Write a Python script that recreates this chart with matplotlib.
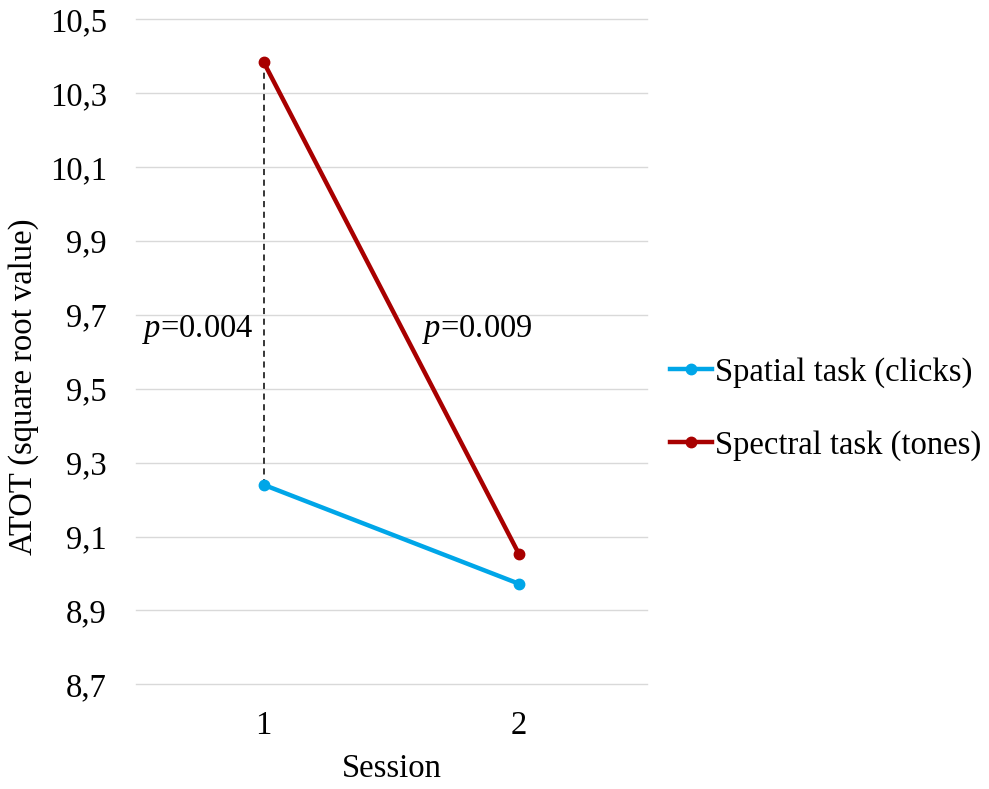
import matplotlib
matplotlib.use("Agg")
import matplotlib.pyplot as plt

sessions = [1, 2]
session_labels = ["1", "2"]
spatial = [9.240, 8.972]
spectral = [10.384, 9.052]
yticks = [8.7, 8.9, 9.1, 9.3, 9.5, 9.7, 9.9, 10.1, 10.3, 10.5]
ytick_labels = ["8,7", "8,9", "9,1", "9,3", "9,5", "9,7", "9,9", "10,1", "10,3", "10,5"]
series_names = ["Spatial task (clicks)", "Spectral task (tones)"]
p_labels = ["$\\it{p}$=0.004", "$\\it{p}$=0.009"]

plt.rcParams['font.family'] = ['Liberation Serif', 'DejaVu Serif']
plt.rcParams['mathtext.fontset'] = 'custom'
plt.rcParams['mathtext.it'] = 'Liberation Serif:italic'
plt.rcParams['mathtext.rm'] = 'Liberation Serif'

BLUE = "#00A6E8"
RED = "#A80000"
FS = 23.5

fig = plt.figure(figsize=(9.89, 7.89), dpi=100)
ax = fig.add_axes([0.1375, 0.1327, 0.654 - 0.1375, 0.9755 - 0.1327])

ax.set_xlim(0.5, 2.5)
ax.set_ylim(8.7, 10.5)
ax.set_yticks(yticks)
ax.set_yticklabels(ytick_labels)
ax.set_xticks(sessions)
ax.set_xticklabels(session_labels)
ax.grid(axis='y', color='#D9D9D9', linewidth=1.0)
for gl in ax.get_ygridlines():
    gl.set_clip_on(False)
ax.set_axisbelow(True)
for s in ax.spines.values():
    s.set_visible(False)
ax.tick_params(axis='both', length=0, labelsize=FS)
ax.tick_params(axis='y', pad=21)
ax.tick_params(axis='x', pad=19)

# dashed connector between the two series at session 1
ax.plot([sessions[0], sessions[0]], [spectral[0], spatial[0]], color='black',
        linestyle=(0, (4, 3)), linewidth=1.1, zorder=1)

l1, = ax.plot(sessions, spatial, color=BLUE, linewidth=3.2, marker='o',
              markersize=7.5, label=series_names[0], zorder=3)
l2, = ax.plot(sessions, spectral, color=RED, linewidth=3.2, marker='o',
              markersize=7.5, label=series_names[1], zorder=3)

ax.text(0.523, 9.66, p_labels[0], fontsize=FS, ha='left', va='center')
ax.text(1.62, 9.66, p_labels[1], fontsize=FS, ha='left', va='center')

ax.set_xlabel("Session", fontsize=FS, labelpad=9)
fig.text(24 / 989, 1 - 386.5 / 789, "ATOT (square root value)", rotation=90,
         ha='center', va='center', fontsize=FS)

fig.legend(handles=[l1, l2], loc='center left',
           bbox_to_anchor=(670 / 989, 1 - 409 / 789), frameon=False,
           fontsize=FS, handlelength=1.3, handletextpad=0.08,
           labelspacing=1.3, borderaxespad=0, borderpad=0)

fig.savefig("out.png", dpi=100)
